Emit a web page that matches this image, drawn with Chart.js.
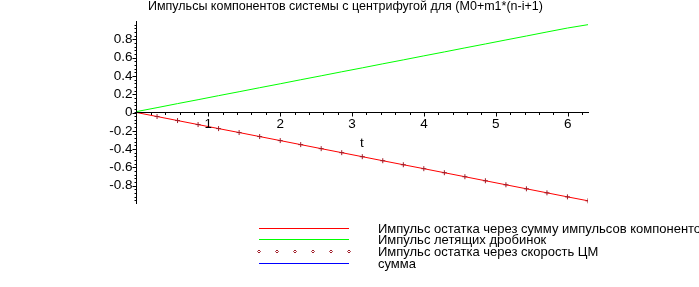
<!DOCTYPE html>
<html>
<head>
<meta charset="utf-8">
<script src="https://cdn.jsdelivr.net/npm/chart.js@4/dist/chart.umd.min.js"></script>
<style>
  html, body { margin: 0; padding: 0; background: #fff; }
  #wrap { width: 699px; height: 287px; position: relative; }
</style>
</head>
<body>
<div id="wrap"><canvas id="grafico" width="699" height="287"></canvas></div>
<script>
// Dados
const titulo = "Импульсы компонентов системы с центрифугой для (M0+m1*(n-i+1)";
const nomes = [
  "Импульс остатка через сумму импульсов компонентов",
  "Импульс летящих дробинок",
  "Импульс остатка через скорость ЦМ",
  "сумма"
];
const tempos = [0, 0.286, 0.571, 0.857, 1.142, 1.428, 1.714, 2.0, 2.285, 2.570, 2.856, 3.142,
  3.427, 3.713, 3.998, 4.284, 4.570, 4.855, 5.141, 5.426, 5.712, 5.997, 6.283];
const restoSoma = [0, -0.044, -0.088, -0.132, -0.176, -0.219, -0.263, -0.307, -0.351, -0.395, -0.439, -0.483,
  -0.527, -0.571, -0.614, -0.658, -0.702, -0.746, -0.790, -0.834, -0.878, -0.922, -0.965];
const dorobinki = [0.01, 0.053, 0.097, 0.140, 0.184, 0.227, 0.271, 0.314, 0.358, 0.401, 0.445, 0.488,
  0.532, 0.575, 0.619, 0.662, 0.706, 0.749, 0.793, 0.836, 0.880, 0.923, 0.960];
const restoCM = [0, -0.044, -0.088, -0.132, -0.176, -0.219, -0.263, -0.307, -0.351, -0.395, -0.439, -0.483,
  -0.527, -0.571, -0.614, -0.658, -0.702, -0.746, -0.790, -0.834, -0.878, -0.922, -0.965];
const soma = [0, 0, 0, 0, 0, 0, 0, 0, 0, 0, 0, 0, 0, 0, 0, 0, 0, 0, 0, 0, 0, 0, 0];
const ticksX = [1, 2, 3, 4, 5, 6];
const ticksY = [-0.8, -0.6, -0.4, -0.2, 0, 0.2, 0.4, 0.6, 0.8];

const cores = ["#ff0000", "#00ff00", "#a01c28", "#0000ff"];
const fonte = "'Liberation Sans', Arial, sans-serif";

function pontos(valores) {
  return tempos.map((t, i) => ({ x: t, y: valores[i] }));
}

// Eixos, título e legenda no estilo do Maple
const eixosMaple = {
  id: "eixosMaple",
  afterDatasetsDraw(chart) {
    const ctx = chart.ctx;
    const sx = chart.scales.x;
    const sy = chart.scales.y;
    const x0 = sx.getPixelForValue(0);
    const y0 = sy.getPixelForValue(0);
    const area = chart.chartArea;

    ctx.save();
    ctx.strokeStyle = "#000";
    ctx.lineWidth = 1;
    ctx.beginPath();
    ctx.moveTo(area.left, y0);
    ctx.lineTo(area.right + 1, y0);
    ctx.moveTo(x0, area.top);
    ctx.lineTo(x0, area.bottom);

    // marcas do eixo x
    for (let v = 0.2; v <= sx.max + 1e-6; v += 0.2) {
      const px = Math.round(sx.getPixelForValue(v)) + 0.5;
      const maior = Math.abs(v - Math.round(v)) < 1e-6;
      ctx.moveTo(px, y0);
      ctx.lineTo(px, y0 + (maior ? 4 : 2.5));
    }
    // marcas do eixo y
    for (let v = -0.96; v <= 0.97; v += 0.04) {
      const py = Math.round(sy.getPixelForValue(v)) + 0.5;
      ctx.moveTo(x0, py);
      ctx.lineTo(x0 - 2, py);
    }
    ticksY.forEach(v => {
      const py = Math.round(sy.getPixelForValue(v)) + 0.5;
      ctx.moveTo(x0, py);
      ctx.lineTo(x0 - 4, py);
    });
    ctx.stroke();

    ctx.fillStyle = "#000";
    ctx.font = "13.5px " + fonte;
    ctx.textAlign = "center";
    ctx.textBaseline = "middle";
    ticksX.forEach(v => ctx.fillText(String(v), sx.getPixelForValue(v), y0 + 12));
    ctx.textAlign = "right";
    ticksY.forEach(v => ctx.fillText(String(v), x0 - 4, sy.getPixelForValue(v)));
    ctx.textAlign = "center";
    ctx.fillText("t", 362, 143);

    // título
    ctx.font = "12.5px " + fonte;
    ctx.textAlign = "left";
    ctx.fillText(titulo, 148, 7);

    // legenda
    const linhas = [228, 239, 251, 263];
    ctx.font = "13px " + fonte;
    chart.data.datasets.forEach((ds, i) => {
      const y = linhas[i] + 0.5;
      ctx.strokeStyle = ds.borderColor;
      ctx.fillStyle = ds.borderColor;
      if (ds.showLine === false) {
        for (let k = 0; k < 6; k++) {
          const px = 259 + k * 18;
          ctx.beginPath();
          ctx.moveTo(px, y - 1.5);
          ctx.lineTo(px + 1.5, y);
          ctx.lineTo(px, y + 1.5);
          ctx.lineTo(px - 1.5, y);
          ctx.closePath();
          ctx.stroke();
        }
      } else {
        ctx.beginPath();
        ctx.moveTo(259, y);
        ctx.lineTo(349, y);
        ctx.stroke();
      }
      ctx.fillStyle = "#000";
      ctx.textAlign = "left";
      ctx.fillText(ds.label, 378, linhas[i] + 1);
    });
    ctx.restore();
  }
};

new Chart(document.getElementById("grafico").getContext("2d"), {
  type: "line",
  data: {
    datasets: [
      { label: nomes[0], data: pontos(restoSoma), borderColor: cores[0], borderWidth: 1, pointRadius: 0, order: 2 },
      { label: nomes[1], data: pontos(dorobinki), borderColor: cores[1], borderWidth: 1, pointRadius: 0, order: 2 },
      { label: nomes[2], data: pontos(restoCM), borderColor: cores[2], showLine: false,
        pointStyle: "cross", pointRadius: 2.5, pointBorderWidth: 1, order: 1 },
      { label: nomes[3], data: pontos(soma), borderColor: cores[3], borderWidth: 1, pointRadius: 0, order: 3 }
    ]
  },
  options: {
    responsive: false,
    animation: false,
    devicePixelRatio: 1,
    layout: { padding: { left: 136.5, right: 111, top: 21, bottom: 83 } },
    scales: {
      x: { type: "linear", min: 0, max: 6.283, display: false },
      y: { type: "linear", min: -1, max: 1, display: false }
    },
    plugins: {
      legend: { display: false },
      title: { display: false },
      tooltip: { enabled: false }
    }
  },
  plugins: [eixosMaple]
});
</script>
</body>
</html>
